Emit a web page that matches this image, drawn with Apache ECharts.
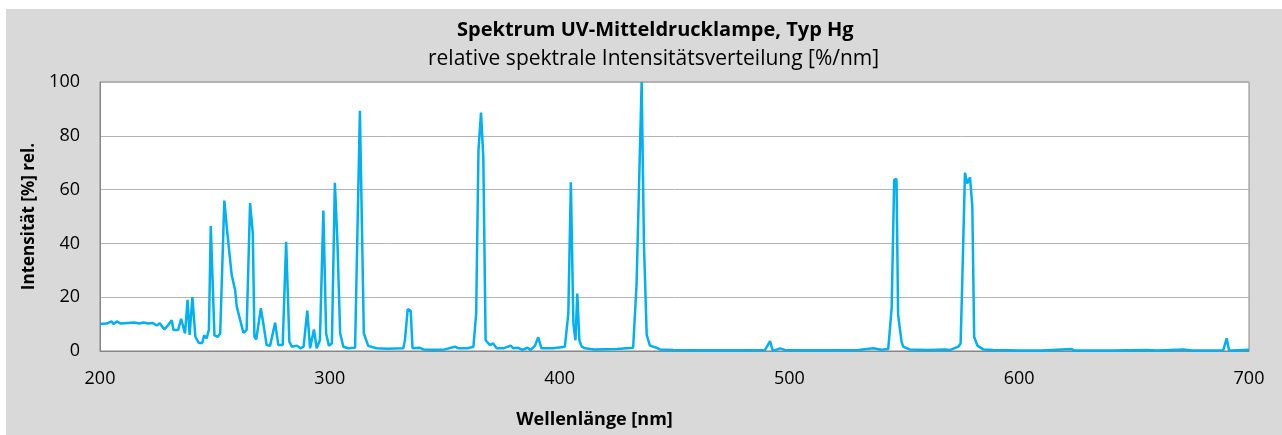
<!DOCTYPE html>
<html>
<head>
<meta charset="utf-8">
<script src="https://cdn.jsdelivr.net/npm/echarts@6/dist/echarts.min.js"></script>
<style>
  html, body { margin: 0; padding: 0; background: #fff; }
  #chart {
    position: absolute;
    left: 6px;
    top: 9px;
    width: 1276px;
    height: 426px;
    background: #d9d9d9;
  }
</style>
</head>
<body>
<div id="chart"></div>
<script>
// Wellenlänge [nm]
const wavelengths = [
  200, 203, 205, 206, 207.3, 209, 212, 215, 217, 219, 221, 223, 224.7, 226, 228, 229.5,
  231.2, 232, 234, 235.3, 237, 238.1, 239, 240.2, 241.5, 243, 244.5, 245.3, 246.4, 247.4,
  248.2, 249.8, 251.3, 252.3, 254.1, 255.4, 257.3, 258.8, 259.5, 262.4, 263.8, 265.3, 266.5,
  267.2, 268, 270, 271.3, 272.5, 274, 276.2, 277.6, 279.5, 281, 282.4, 283.5, 285.7, 287.2,
  288.6, 290.2, 291.4, 293.1, 294.3, 295.7, 297.2, 298.4, 299.6, 300.9, 302.2, 303.3, 304.5,
  305.9, 308, 311, 313.1, 314.8, 316.7, 320.3, 325, 332, 332.7, 333.9, 335.2, 336, 339.2,
  340.7, 345, 350, 354.5, 356, 360, 362.5, 363.7, 364.7, 365.8, 366.8, 367.8, 369.7, 371.1,
  372.6, 375.5, 378.7, 379.9, 382, 383.8, 386, 387.4, 389.3, 390.7, 392.1, 397.2, 402.3,
  403.8, 404.9, 406, 406.9, 407.7, 408.6, 409.6, 411.1, 415, 425, 432, 433.5, 435.7, 436.7,
  437.9, 439.3, 442.2, 443.7, 449.5, 460, 470, 480, 489.4, 491.6, 492.8, 496, 498, 505, 520,
  530, 536.5, 540, 543, 544.5, 545.6, 546.6, 547.3, 548.8, 549.5, 552.3, 560, 567.7, 570,
  573.5, 574.5, 575.2, 576.4, 577.4, 578.6, 579.6, 580.4, 581.8, 584.4, 588.8, 600, 610,
  622.8, 624, 640, 655.5, 660, 671.4, 675, 688.8, 690.3, 691.3, 693, 700
];
// Intensität [%] rel.
const intensities = [
  10.0, 10.2, 11, 10, 11, 10.2, 10.4, 10.6, 10.2, 10.6, 10.2, 10.4, 9.5, 10.3, 8, 9.5,
  11.4, 7.8, 7.8, 12, 6.5, 19, 6, 20, 5.3, 3, 3, 5.8, 4.7, 8,
  46.5, 5.8, 5.3, 6.5, 55.9, 44, 28.3, 22.7, 16.5, 6.8, 7.8, 55, 43.7,
  5.3, 4.3, 15.9, 9, 2.2, 1.9, 10.5, 2.2, 2.2, 40.6, 3.5, 1.6, 2, 1,
  1.6, 15, 1, 8, 1, 4, 52.2, 6.5, 2, 2.8, 62.5, 41, 6.6,
  1.6, 1, 1.2, 89.3, 6.6, 1.9, 1, 0.8, 1, 4, 15.6, 14.9, 1, 1.2,
  0.6, 0.5, 0.6, 1.6, 1, 1, 1.6, 14, 74.7, 88.6, 72, 4, 2.2, 2.8,
  1, 1, 2, 1, 1.2, 0.4, 1.2, 0.4, 2, 5.1, 1, 1, 1.6,
  14, 62.7, 10.3, 4, 21.4, 4, 1.6, 1, 0.6, 0.7, 1.2, 25, 100, 40,
  6, 2, 1.2, 0.6, 0.4, 0.3, 0.3, 0.3, 0.4, 3.7, 0, 1, 0.4, 0.3, 0.3,
  0.4, 1, 0.5, 0.7, 16, 63.6, 64, 13.4, 3.5, 1.6, 0.6, 0.4, 0.6, 0.4,
  1.6, 2.8, 25, 66.3, 62.3, 64.6, 53.7, 5.3, 2, 0.6, 0.4, 0.2, 0.2,
  0.7, 0.2, 0.2, 0.4, 0.2, 0.6, 0.2, 0.3, 4.7, 0.3, 0.2, 0.5
];
const xTicks = [200, 300, 400, 500, 600, 700];
const yTicks = [0, 20, 40, 60, 80, 100];

const chartTitle = 'Spektrum UV-Mitteldrucklampe, Typ Hg';
const chartSubtitle = 'relative spektrale Intensitätsverteilung [%/nm]';
const xName = 'Wellenlänge [nm]';
const yName = 'Intensität [%] rel.';

const font = '"Open Sans", Lato, sans-serif';
const lineData = wavelengths.map((w, i) => [w, intensities[i]]);

const option = {
  animation: false,
  textStyle: { fontFamily: font, color: '#000' },
  title: [
    {
      text: chartTitle,
      left: 446,
      top: 6,
      textStyle: { fontFamily: font, fontSize: 20, fontWeight: 'bold', color: '#000' },
    },
    {
      text: chartSubtitle,
      left: 417,
      top: 35,
      textStyle: { fontFamily: font, fontSize: 21, fontWeight: 'normal', color: '#000' },
    },
  ],
  grid: {
    left: 94,
    right: 33,
    top: 73,
    bottom: 84,
    containLabel: false,
    show: true,
    backgroundColor: '#fff',
    borderColor: '#868686',
    borderWidth: 1,
  },
  xAxis: {
    type: 'value',
    min: xTicks[0],
    max: xTicks[xTicks.length - 1],
    interval: xTicks[1] - xTicks[0],
    name: xName,
    nameLocation: 'middle',
    nameGap: 60,
    nameTextStyle: {
      fontFamily: font, fontSize: 18, fontWeight: 'bold', color: '#000',
      padding: [0, 160, 0, 0],
    },
    axisLine: { show: true, lineStyle: { color: '#868686', width: 1 } },
    axisTick: { show: false },
    splitLine: { show: false },
    axisLabel: { fontFamily: font, fontSize: 18, color: '#000', margin: 19 },
  },
  yAxis: {
    type: 'value',
    min: yTicks[0],
    max: yTicks[yTicks.length - 1],
    interval: yTicks[1] - yTicks[0],
    name: yName,
    nameLocation: 'middle',
    nameGap: 62,
    nameTextStyle: { fontFamily: font, fontSize: 17, fontWeight: 'bold', color: '#000' },
    axisLine: { show: true, lineStyle: { color: '#868686', width: 1 } },
    axisTick: { show: false },
    splitLine: { show: true, lineStyle: { color: '#b4b4b4', width: 1 } },
    axisLabel: { fontFamily: font, fontSize: 18, color: '#000', margin: 20 },
  },
  series: [
    {
      type: 'line',
      data: lineData,
      showSymbol: false,
      clip: true,
      lineStyle: { color: '#00b0f0', width: 2.5 },
      itemStyle: { color: '#00b0f0' },
    },
  ],
};

echarts.init(document.getElementById('chart')).setOption(option);
</script>
</body>
</html>
